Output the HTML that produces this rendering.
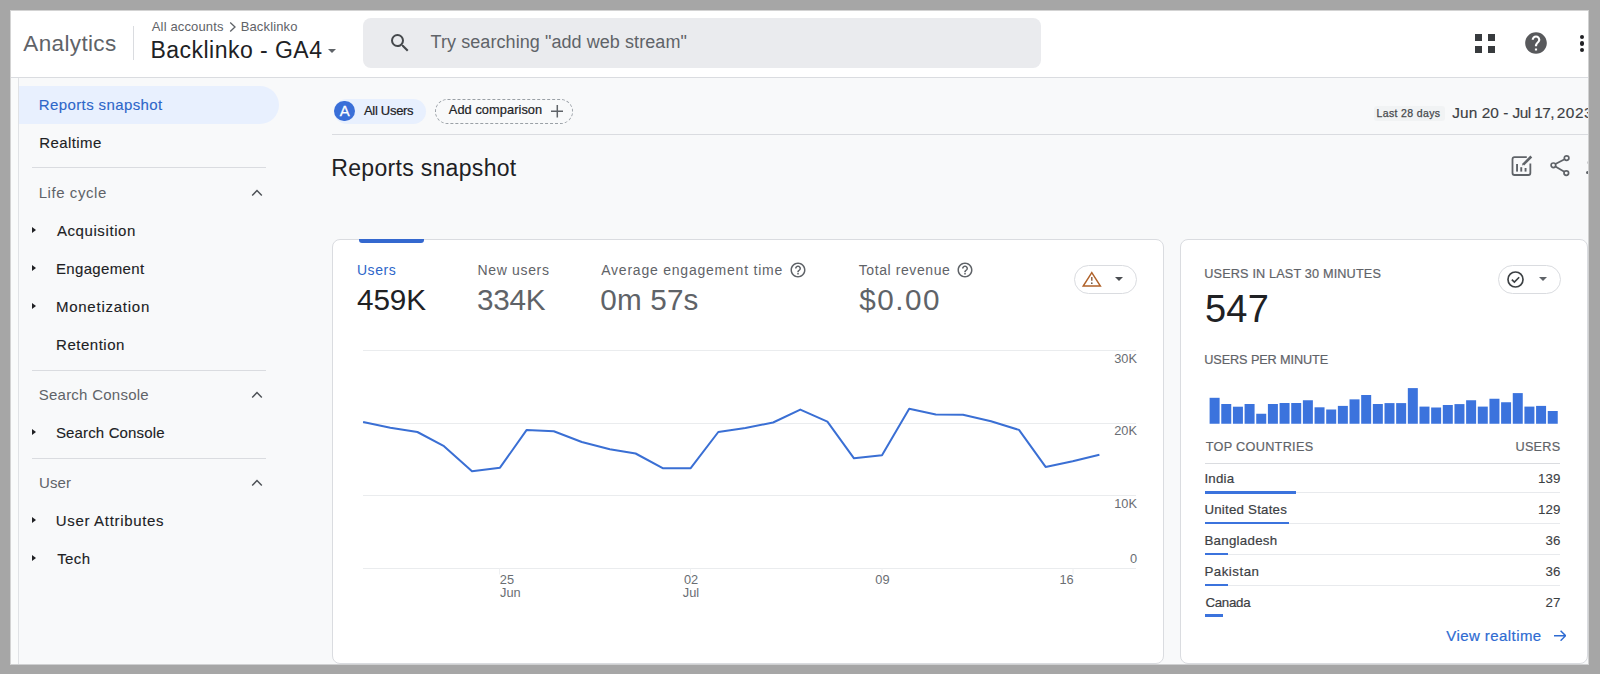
<!DOCTYPE html>
<html><head><meta charset="utf-8">
<style>
*{box-sizing:border-box;margin:0;padding:0}
html,body{width:1600px;height:674px;overflow:hidden;background:#a6a6a6;font-family:"Liberation Sans",sans-serif;position:relative}
.abs{position:absolute}
.t{position:absolute;white-space:nowrap;line-height:1}
.card{position:absolute;background:#fff;border:1px solid #dadce0;border-radius:8px}
.frame{position:absolute;left:11px;top:11px;width:1578px;height:654px;background:#f8f9fa}
</style></head>
<body>
<div class="frame"></div>
<div class="abs" style="left:11px;top:11px;width:1578px;height:66px;background:#fff"></div><div class="abs" style="left:11px;top:77px;width:1578px;height:1px;background:#dadce0"></div><div class="t" style="left:23.30px;top:33.17px;font-size:22.5px;color:#5f6368;letter-spacing:0.36px;">Analytics</div>
<div class="abs" style="left:133px;top:26px;width:1px;height:34px;background:#dadce0"></div><div class="t" style="left:151.80px;top:19.95px;font-size:13px;color:#5f6368;letter-spacing:0.14px;">All accounts</div>
<svg class="abs" style="left:227px;top:21px" width="12" height="12" viewBox="0 0 12 12"><path d="M3.2 1.5 L8 6 L3.2 10.5" fill="none" stroke="#5f6368" stroke-width="1.3"/></svg><div class="t" style="left:240.70px;top:19.95px;font-size:13px;color:#5f6368;letter-spacing:0.14px;">Backlinko</div>
<div class="t" style="left:150.50px;top:38.85px;font-size:23px;color:#202124;letter-spacing:0.47px;">Backlinko - GA4</div>
<div class="abs" style="left:327.7px;top:49.4px;width:0;height:0;border-left:4.3px solid transparent;border-right:4.3px solid transparent;border-top:4.5px solid #5f6368"></div><div class="abs" style="left:363.3px;top:17.5px;width:677.5px;height:50.5px;background:#eaebee;border-radius:8px"></div><svg class="abs" style="left:388px;top:30.5px" width="24" height="24" viewBox="0 0 24 24"><path fill="#45484c" d="M15.5 14h-.79l-.28-.27A6.47 6.47 0 0 0 16 9.5 6.5 6.5 0 1 0 9.5 16c1.61 0 3.09-.59 4.23-1.57l.27.28v.79l5 4.99L20.49 19l-4.99-5zm-6 0C7.01 14 5 11.99 5 9.5S7.01 5 9.5 5 14 7.01 14 9.5 11.99 14 9.5 14z"/></svg><div class="t" style="left:430.60px;top:32.70px;font-size:18px;color:#5f6368;letter-spacing:0.07px;">Try searching "add web stream"</div>
<div class="abs" style="left:1475.2px;top:33.9px;width:7px;height:6.7px;background:#383b3e"></div><div class="abs" style="left:1487.7px;top:33.9px;width:7px;height:6.7px;background:#383b3e"></div><div class="abs" style="left:1475.2px;top:46px;width:7px;height:6.7px;background:#383b3e"></div><div class="abs" style="left:1487.7px;top:46px;width:7px;height:6.7px;background:#383b3e"></div><svg class="abs" style="left:1523px;top:30px" width="26" height="26" viewBox="0 0 24 24"><path fill="#58595c" d="M12 2C6.48 2 2 6.48 2 12s4.48 10 10 10 10-4.48 10-10S17.52 2 12 2zm1 17h-2v-2h2v2zm2.07-7.75l-.9.92C13.45 12.9 13 13.5 13 15h-2v-.5c0-1.1.45-2.1 1.17-2.83l1.24-1.26c.37-.36.59-.86.59-1.41 0-1.1-.9-2-2-2s-2 .9-2 2H8c0-2.21 1.79-4 4-4s4 1.79 4 4c0 .88-.36 1.68-.93 2.25z"/></svg><div class="abs" style="left:1580.3000000000002px;top:35.1px;width:4.2px;height:4.2px;border-radius:50%;background:#202124"></div><div class="abs" style="left:1580.3000000000002px;top:41.4px;width:4.2px;height:4.2px;border-radius:50%;background:#202124"></div><div class="abs" style="left:1580.3000000000002px;top:47.699999999999996px;width:4.2px;height:4.2px;border-radius:50%;background:#202124"></div><div class="abs" style="left:11px;top:78px;width:7px;height:587px;background:#fafbfb"></div><div class="abs" style="left:18px;top:78px;width:1px;height:587px;background:#e0e2e5"></div><div class="abs" style="left:19px;top:86px;width:260px;height:38px;background:#e8f0fe;border-radius:0 19px 19px 0"></div><div class="t" style="left:38.80px;top:96.85px;font-size:15px;color:#2d66c9;letter-spacing:0.39px;-webkit-text-stroke:0.12px #2d66c9;">Reports snapshot</div>
<div class="t" style="left:39.20px;top:134.85px;font-size:15px;color:#202124;letter-spacing:0.43px;-webkit-text-stroke:0.12px #202124;">Realtime</div>
<div class="abs" style="left:32px;top:167.3px;width:233.5px;height:1px;background:#dadce0"></div><div class="t" style="left:38.70px;top:185.45px;font-size:15px;color:#5f6368;letter-spacing:0.56px;">Life cycle</div>
<svg class="abs" style="left:250px;top:187.1px" width="14" height="12" viewBox="0 0 14 12"><path d="M2.2 8.4 L7 3.6 L11.8 8.4" fill="none" stroke="#4d5156" stroke-width="1.45"/></svg><div class="t" style="left:56.90px;top:222.95px;font-size:15px;color:#202124;letter-spacing:0.59px;-webkit-text-stroke:0.12px #202124;">Acquisition</div>
<div class="abs" style="left:32.3px;top:226.70px;width:0;height:0;border-top:3.9px solid transparent;border-bottom:3.9px solid transparent;border-left:4.5px solid #202124"></div><div class="t" style="left:55.90px;top:260.85px;font-size:15px;color:#202124;letter-spacing:0.36px;-webkit-text-stroke:0.12px #202124;">Engagement</div>
<div class="abs" style="left:32.3px;top:264.60px;width:0;height:0;border-top:3.9px solid transparent;border-bottom:3.9px solid transparent;border-left:4.5px solid #202124"></div><div class="t" style="left:55.90px;top:299.35px;font-size:15px;color:#202124;letter-spacing:0.76px;-webkit-text-stroke:0.12px #202124;">Monetization</div>
<div class="abs" style="left:32.3px;top:303.10px;width:0;height:0;border-top:3.9px solid transparent;border-bottom:3.9px solid transparent;border-left:4.5px solid #202124"></div><div class="t" style="left:56.10px;top:336.95px;font-size:15px;color:#202124;letter-spacing:0.51px;-webkit-text-stroke:0.12px #202124;">Retention</div>
<div class="abs" style="left:32px;top:370.2px;width:233.5px;height:1px;background:#dadce0"></div><div class="t" style="left:38.70px;top:387.45px;font-size:15px;color:#5f6368;letter-spacing:0.25px;">Search Console</div>
<svg class="abs" style="left:250px;top:389.2px" width="14" height="12" viewBox="0 0 14 12"><path d="M2.2 8.4 L7 3.6 L11.8 8.4" fill="none" stroke="#4d5156" stroke-width="1.45"/></svg><div class="t" style="left:55.90px;top:424.95px;font-size:15px;color:#202124;letter-spacing:0.15px;-webkit-text-stroke:0.12px #202124;">Search Console</div>
<div class="abs" style="left:32.3px;top:428.80px;width:0;height:0;border-top:3.9px solid transparent;border-bottom:3.9px solid transparent;border-left:4.5px solid #202124"></div><div class="abs" style="left:32px;top:457.5px;width:233.5px;height:1px;background:#dadce0"></div><div class="t" style="left:38.90px;top:475.25px;font-size:15px;color:#5f6368;letter-spacing:0.17px;">User</div>
<svg class="abs" style="left:250px;top:477px" width="14" height="12" viewBox="0 0 14 12"><path d="M2.2 8.4 L7 3.6 L11.8 8.4" fill="none" stroke="#4d5156" stroke-width="1.45"/></svg><div class="t" style="left:55.70px;top:513.45px;font-size:15px;color:#202124;letter-spacing:0.68px;-webkit-text-stroke:0.12px #202124;">User Attributes</div>
<div class="abs" style="left:32.3px;top:517.30px;width:0;height:0;border-top:3.9px solid transparent;border-bottom:3.9px solid transparent;border-left:4.5px solid #202124"></div><div class="t" style="left:57.20px;top:550.75px;font-size:15px;color:#202124;letter-spacing:0.4px;-webkit-text-stroke:0.12px #202124;">Tech</div>
<div class="abs" style="left:32.3px;top:554.90px;width:0;height:0;border-top:3.9px solid transparent;border-bottom:3.9px solid transparent;border-left:4.5px solid #202124"></div><div class="abs" style="left:334px;top:99px;width:92px;height:24.8px;background:#e8f0fe;border-radius:13px"></div><div class="abs" style="left:334.4px;top:100.9px;width:20.4px;height:20.6px;background:#3a6fd8;border-radius:50%"></div><div class="t" style="left:334.60px;top:103.62px;font-size:14.8px;color:#fff;-webkit-text-stroke:0.3px #fff;width:20.4px;text-align:center">A</div>
<div class="t" style="left:364.00px;top:103.85px;font-size:13px;color:#202124;letter-spacing:-0.3px;-webkit-text-stroke:0.2px #202124;">All Users</div>
<div class="abs" style="left:435.2px;top:99.2px;width:137.8px;height:24.4px;border:1px dashed #9aa0a6;border-radius:13px"></div><div class="t" style="left:448.80px;top:104.42px;font-size:12.8px;color:#202124;letter-spacing:0.07px;-webkit-text-stroke:0.2px #202124;">Add comparison</div>
<svg class="abs" style="left:550.5px;top:105.1px" width="12.6" height="12.6" viewBox="0 0 12.6 12.6"><path d="M6.3 0 V12.6 M0 6.3 H12.6" stroke="#5f6368" stroke-width="1.5"/></svg><div class="abs" style="left:1374px;top:105.5px;width:71px;height:15.5px;background:#f1f3f4;border-radius:3px"></div><div class="t" style="left:1376.60px;top:108.08px;font-size:10.5px;color:#46494d;letter-spacing:0.35px;-webkit-text-stroke:0.25px #46494d;">Last 28 days</div>
<div class="t" style="left:1452.20px;top:105.01px;font-size:15.4px;color:#3c4043;letter-spacing:0.1px;-webkit-text-stroke:0.15px #3c4043;">Jun 20 -</div>
<div class="t" style="left:1512.50px;top:105.01px;font-size:15.4px;color:#3c4043;letter-spacing:-0.55px;-webkit-text-stroke:0.15px #3c4043;">Jul 17,</div>
<div class="t" style="left:1556.80px;top:105.01px;font-size:15.4px;color:#3c4043;letter-spacing:0.5px;-webkit-text-stroke:0.15px #3c4043;">2023</div>
<div class="abs" style="left:332px;top:134.4px;width:1257px;height:1px;background:#dadce0"></div><div class="t" style="left:331.30px;top:156.95px;font-size:23px;color:#202124;letter-spacing:0.31px;">Reports snapshot</div>
<svg class="abs" style="left:1510px;top:154px" width="24" height="24" viewBox="0 0 24 24"><path d="M16.8 3.15 H4.5 Q2.5 3.15 2.5 5.15 V19 Q2.5 21 4.5 21 H18.35 Q20.35 21 20.35 19 V9.5" fill="none" stroke="#5f6368" stroke-width="1.8"/><path d="M13.2 10.6 L21.3 2.5" stroke="#5f6368" stroke-width="2.6" fill="none"/><path d="M11.8 12 L13.6 10.2 L12.6 9.4 Z" fill="#5f6368"/><rect x="6.1" y="10" width="1.9" height="7.6" fill="#5f6368"/><rect x="10.3" y="13.2" width="1.9" height="4.4" fill="#5f6368"/><rect x="14.6" y="14" width="1.9" height="3.6" fill="#5f6368"/></svg><svg class="abs" style="left:1549px;top:154px" width="23" height="23" viewBox="0 0 23 23"><circle cx="17.6" cy="4.1" r="2.3" fill="none" stroke="#5f6368" stroke-width="1.7"/><circle cx="4.4" cy="11.3" r="2.3" fill="none" stroke="#5f6368" stroke-width="1.7"/><circle cx="17.3" cy="19.1" r="2.3" fill="none" stroke="#5f6368" stroke-width="1.7"/><path d="M6.4 10.1 L15.6 5.3 M6.4 12.5 L15.3 17.8" stroke="#5f6368" stroke-width="1.7"/></svg><div class="abs" style="left:1586.5px;top:160.5px;width:3px;height:3px;border-radius:50%;background:#c8c9cc"></div><div class="abs" style="left:1586px;top:170.5px;width:3.2px;height:3.2px;border-radius:50%;background:#5f6368"></div><div class="card" style="left:331.5px;top:239px;width:832.5px;height:425px"></div><div class="abs" style="left:359.1px;top:239.2px;width:65.3px;height:4px;background:#3468cf;border-radius:0 0 3px 3px"></div><div class="t" style="left:356.90px;top:263.40px;font-size:14px;color:#2d66c9;letter-spacing:0.6px;">Users</div>
<div class="t" style="left:357.00px;top:284.65px;font-size:29.7px;color:#202124;letter-spacing:-0.13px;">459K</div>
<div class="t" style="left:477.60px;top:263.40px;font-size:14px;color:#5f6368;letter-spacing:0.65px;">New users</div>
<div class="t" style="left:477.10px;top:284.65px;font-size:29.7px;color:#5f6368;letter-spacing:-0.33px;">334K</div>
<div class="t" style="left:601.20px;top:263.40px;font-size:14px;color:#5f6368;letter-spacing:0.78px;">Average engagement time</div>
<div class="t" style="left:600.30px;top:284.65px;font-size:29.7px;color:#5f6368;letter-spacing:0.16px;">0m 57s</div>
<div class="t" style="left:858.70px;top:263.30px;font-size:14px;color:#5f6368;letter-spacing:0.59px;">Total revenue</div>
<div class="t" style="left:859.20px;top:285.15px;font-size:29.7px;color:#5f6368;letter-spacing:1.5px;">$0.00</div>
<svg class="abs" style="left:788.7px;top:260.6px" width="18" height="18" viewBox="0 0 24 24"><path fill="#5f6368" d="M11 18h2v-2h-2v2zm1-16C6.48 2 2 6.48 2 12s4.48 10 10 10 10-4.48 10-10S17.52 2 12 2zm0 18c-4.41 0-8-3.59-8-8s3.59-8 8-8 8 3.59 8 8-3.59 8-8 8zm0-14c-2.21 0-4 1.79-4 4h2c0-1.1.9-2 2-2s2 .9 2 2c0 2-3 1.75-3 5h2c0-2.25 3-2.5 3-5 0-2.21-1.79-4-4-4z"/></svg><svg class="abs" style="left:956.4px;top:260.5px" width="18" height="18" viewBox="0 0 24 24"><path fill="#5f6368" d="M11 18h2v-2h-2v2zm1-16C6.48 2 2 6.48 2 12s4.48 10 10 10 10-4.48 10-10S17.52 2 12 2zm0 18c-4.41 0-8-3.59-8-8s3.59-8 8-8 8 3.59 8 8-3.59 8-8 8zm0-14c-2.21 0-4 1.79-4 4h2c0-1.1.9-2 2-2s2 .9 2 2c0 2-3 1.75-3 5h2c0-2.25 3-2.5 3-5 0-2.21-1.79-4-4-4z"/></svg><div class="abs" style="left:1073.8px;top:264.7px;width:63px;height:29px;border:1px solid #dadce0;border-radius:15px"></div><svg class="abs" style="left:1081px;top:270px" width="21" height="18" viewBox="0 0 21 18"><path d="M10.8 2.6 L19.4 16.0 H2.2 Z" fill="none" stroke="#b0622a" stroke-width="1.45" stroke-linejoin="miter"/><path d="M10.8 7.0 V10.8" stroke="#8a5a3a" stroke-width="1.4"/><circle cx="10.8" cy="13.2" r="0.85" fill="#6d5a4a"/></svg><div class="abs" style="left:1115.3px;top:277.3px;width:0;height:0;border-left:4.1px solid transparent;border-right:4.1px solid transparent;border-top:4.2px solid #4a4d51"></div><div class="abs" style="left:363px;top:349.9px;width:773px;height:1px;background:#eaecee"></div><div class="abs" style="left:363px;top:422.5px;width:773px;height:1px;background:#eaecee"></div><div class="abs" style="left:363px;top:495.2px;width:773px;height:1px;background:#eaecee"></div><div class="abs" style="left:363px;top:567.5px;width:773px;height:1px;background:#eaecee"></div><div class="t" style="left:1037.00px;top:352.82px;font-size:12.8px;color:#6a6e73;width:100px;text-align:right">30K</div>
<div class="t" style="left:1037.00px;top:425.12px;font-size:12.8px;color:#6a6e73;width:100px;text-align:right">20K</div>
<div class="t" style="left:1037.00px;top:498.12px;font-size:12.8px;color:#6a6e73;width:100px;text-align:right">10K</div>
<div class="t" style="left:1037.00px;top:553.32px;font-size:12.8px;color:#6a6e73;width:100px;text-align:right">0</div>
<svg class="abs" style="left:0;top:0" width="1600" height="674"><path d="M363.1 422.1 L390.3 427.7 L417.4 432.0 L444.0 446.2 L472.0 471.2 L500.0 467.7 L526.7 429.9 L553.8 431.2 L581.8 442.0 L609.8 449.2 L635.6 453.5 L662.7 468.2 L690.7 468.2 L718.3 432.0 L745.4 428.1 L773.1 422.5 L800.3 409.6 L827.4 421.7 L854.0 458.3 L882.0 455.3 L909.2 408.8 L935.8 414.4 L963.0 414.8 L991.0 421.3 L1019.0 429.9 L1045.6 466.9 L1072.7 461.3 L1099.4 454.8" fill="none" stroke="#3a6fd4" stroke-width="2" stroke-linejoin="round"/><path d="M499.5 568.5 V574.5" stroke="#eef0f2" stroke-width="1"/><path d="M690.5 568.5 V574.5" stroke="#eef0f2" stroke-width="1"/><path d="M882 568.5 V574.5" stroke="#eef0f2" stroke-width="1"/><path d="M1073 568.5 V574.5" stroke="#eef0f2" stroke-width="1"/></svg><div class="t" style="left:456.90px;top:573.92px;font-size:12.8px;color:#6a6e73;width:100px;text-align:center">25</div>
<div class="t" style="left:460.40px;top:587.12px;font-size:12.8px;color:#6a6e73;width:100px;text-align:center">Jun</div>
<div class="t" style="left:641.00px;top:573.92px;font-size:12.8px;color:#6a6e73;width:100px;text-align:center">02</div>
<div class="t" style="left:641.00px;top:587.02px;font-size:12.8px;color:#6a6e73;width:100px;text-align:center">Jul</div>
<div class="t" style="left:832.40px;top:573.92px;font-size:12.8px;color:#6a6e73;width:100px;text-align:center">09</div>
<div class="t" style="left:1016.50px;top:573.82px;font-size:12.8px;color:#6a6e73;width:100px;text-align:center">16</div>
<div class="card" style="left:1179.5px;top:239px;width:408px;height:425px"></div><div class="t" style="left:1204.25px;top:268.20px;font-size:12.7px;color:#5f6368;letter-spacing:0.15px;-webkit-text-stroke:0.2px #5f6368;">USERS IN LAST 30 MINUTES</div>
<div class="t" style="left:1204.90px;top:289.60px;font-size:38px;color:#202124;letter-spacing:0.3px;">547</div>
<div class="abs" style="left:1497.8px;top:265.2px;width:63.6px;height:28.7px;border:1px solid #dadce0;border-radius:15px"></div><svg class="abs" style="left:1505px;top:268.5px" width="21" height="21" viewBox="0 0 24 24"><circle cx="12" cy="12" r="8.6" fill="none" stroke="#3c4043" stroke-width="1.9"/><path d="M7.8 12.2 L10.7 15 L16.2 9.4" fill="none" stroke="#3c4043" stroke-width="1.9"/></svg><div class="abs" style="left:1539px;top:276.7px;width:0;height:0;border-left:4.5px solid transparent;border-right:4.5px solid transparent;border-top:4.5px solid #5f6368"></div><div class="t" style="left:1204.25px;top:353.81px;font-size:12.7px;color:#5f6368;letter-spacing:-0.1px;-webkit-text-stroke:0.2px #5f6368;">USERS PER MINUTE</div>
<svg class="abs" style="left:0;top:0" width="1600" height="674"><rect x="1209.60" y="397.8" width="10" height="25.95" fill="#3b73dd"/><rect x="1221.26" y="404" width="10" height="19.75" fill="#3b73dd"/><rect x="1232.92" y="406.7" width="10" height="17.05" fill="#3b73dd"/><rect x="1244.58" y="404" width="10" height="19.75" fill="#3b73dd"/><rect x="1256.24" y="413.75" width="10" height="10.00" fill="#3b73dd"/><rect x="1267.90" y="404" width="10" height="19.75" fill="#3b73dd"/><rect x="1279.56" y="403" width="10" height="20.75" fill="#3b73dd"/><rect x="1291.22" y="403" width="10" height="20.75" fill="#3b73dd"/><rect x="1302.88" y="400.25" width="10" height="23.50" fill="#3b73dd"/><rect x="1314.54" y="407.3" width="10" height="16.45" fill="#3b73dd"/><rect x="1326.20" y="409.5" width="10" height="14.25" fill="#3b73dd"/><rect x="1337.86" y="405.9" width="10" height="17.85" fill="#3b73dd"/><rect x="1349.52" y="399.35" width="10" height="24.40" fill="#3b73dd"/><rect x="1361.18" y="395" width="10" height="28.75" fill="#3b73dd"/><rect x="1372.84" y="404" width="10" height="19.75" fill="#3b73dd"/><rect x="1384.50" y="403.1" width="10" height="20.65" fill="#3b73dd"/><rect x="1396.16" y="403.1" width="10" height="20.65" fill="#3b73dd"/><rect x="1407.82" y="388.1" width="10" height="35.65" fill="#3b73dd"/><rect x="1419.48" y="406.6" width="10" height="17.15" fill="#3b73dd"/><rect x="1431.14" y="407.5" width="10" height="16.25" fill="#3b73dd"/><rect x="1442.80" y="405" width="10" height="18.75" fill="#3b73dd"/><rect x="1454.46" y="404.1" width="10" height="19.65" fill="#3b73dd"/><rect x="1466.12" y="400.25" width="10" height="23.50" fill="#3b73dd"/><rect x="1477.78" y="406.6" width="10" height="17.15" fill="#3b73dd"/><rect x="1489.44" y="398.75" width="10" height="25.00" fill="#3b73dd"/><rect x="1501.10" y="402.25" width="10" height="21.50" fill="#3b73dd"/><rect x="1512.76" y="393.1" width="10" height="30.65" fill="#3b73dd"/><rect x="1524.42" y="406.6" width="10" height="17.15" fill="#3b73dd"/><rect x="1536.08" y="405.9" width="10" height="17.85" fill="#3b73dd"/><rect x="1547.74" y="411" width="10" height="12.75" fill="#3b73dd"/></svg><div class="t" style="left:1205.70px;top:440.70px;font-size:12.7px;color:#5f6368;letter-spacing:0.3px;-webkit-text-stroke:0.2px #5f6368;">TOP COUNTRIES</div>
<div class="t" style="left:1460.30px;top:440.70px;font-size:12.7px;color:#5f6368;letter-spacing:0.2px;-webkit-text-stroke:0.2px #5f6368;width:100px;text-align:right">USERS</div>
<div class="abs" style="left:1205px;top:463px;width:355px;height:1px;background:#dadce0"></div><div class="t" style="left:1204.40px;top:471.89px;font-size:13.3px;color:#3c4043;letter-spacing:0.2px;-webkit-text-stroke:0.2px #3c4043;">India</div>
<div class="t" style="left:1460.30px;top:471.89px;font-size:13.3px;color:#3c4043;-webkit-text-stroke:0.1px #3c4043;width:100px;text-align:right">139</div>
<div class="abs" style="left:1205px;top:492.2px;width:355px;height:1px;background:#e8eaed"></div><div class="abs" style="left:1205px;top:491.25px;width:90.8px;height:2.3px;background:#3b73dd"></div><div class="t" style="left:1204.40px;top:502.69px;font-size:13.3px;color:#3c4043;letter-spacing:0.22px;-webkit-text-stroke:0.2px #3c4043;">United States</div>
<div class="t" style="left:1460.30px;top:502.69px;font-size:13.3px;color:#3c4043;-webkit-text-stroke:0.1px #3c4043;width:100px;text-align:right">129</div>
<div class="abs" style="left:1205px;top:522.8px;width:355px;height:1px;background:#e8eaed"></div><div class="abs" style="left:1205px;top:521.85px;width:83.7px;height:2.3px;background:#3b73dd"></div><div class="t" style="left:1204.40px;top:533.50px;font-size:13.3px;color:#3c4043;letter-spacing:0.28px;-webkit-text-stroke:0.2px #3c4043;">Bangladesh</div>
<div class="t" style="left:1460.30px;top:533.50px;font-size:13.3px;color:#3c4043;-webkit-text-stroke:0.1px #3c4043;width:100px;text-align:right">36</div>
<div class="abs" style="left:1205px;top:553.8px;width:355px;height:1px;background:#e8eaed"></div><div class="abs" style="left:1205px;top:552.85px;width:23.4px;height:2.3px;background:#3b73dd"></div><div class="t" style="left:1204.40px;top:564.60px;font-size:13.3px;color:#3c4043;letter-spacing:0.51px;-webkit-text-stroke:0.2px #3c4043;">Pakistan</div>
<div class="t" style="left:1460.30px;top:564.60px;font-size:13.3px;color:#3c4043;-webkit-text-stroke:0.1px #3c4043;width:100px;text-align:right">36</div>
<div class="abs" style="left:1205px;top:584.8px;width:355px;height:1px;background:#e8eaed"></div><div class="abs" style="left:1205px;top:583.85px;width:23.2px;height:2.3px;background:#3b73dd"></div><div class="t" style="left:1205.40px;top:595.60px;font-size:13.3px;color:#3c4043;letter-spacing:-0.28px;-webkit-text-stroke:0.2px #3c4043;">Canada</div>
<div class="t" style="left:1460.30px;top:595.60px;font-size:13.3px;color:#3c4043;-webkit-text-stroke:0.1px #3c4043;width:100px;text-align:right">27</div>
<div class="abs" style="left:1205px;top:614.25px;width:17.7px;height:2.3px;background:#3b73dd"></div><div class="t" style="left:1446.30px;top:627.85px;font-size:15px;color:#2e6bd2;letter-spacing:0.43px;-webkit-text-stroke:0.2px #2e6bd2;">View realtime</div>
<svg class="abs" style="left:1553.7px;top:630px" width="12.7" height="11.4" viewBox="0 0 12.7 11.4"><path d="M0 5.7 H11.6 M6.6 0.7 L11.6 5.7 L6.6 10.7" fill="none" stroke="#2e6bd2" stroke-width="1.5"/></svg>
<div class="abs" style="left:0;top:665px;width:1600px;height:9px;background:#a6a6a6"></div>
<div class="abs" style="left:11px;top:664px;width:1578px;height:1px;background:#cfd0d1"></div>
<div class="abs" style="left:11px;top:10px;width:1578px;height:1px;background:#d3d3d3"></div>
<div class="abs" style="left:10px;top:10px;width:1px;height:655px;background:#d3d3d3"></div>
<div class="abs" style="left:1588px;top:10px;width:1px;height:655px;background:#d0d1d1"></div>
<div class="abs" style="left:1589px;top:0;width:11px;height:674px;background:#a6a6a6"></div>
</body></html>
